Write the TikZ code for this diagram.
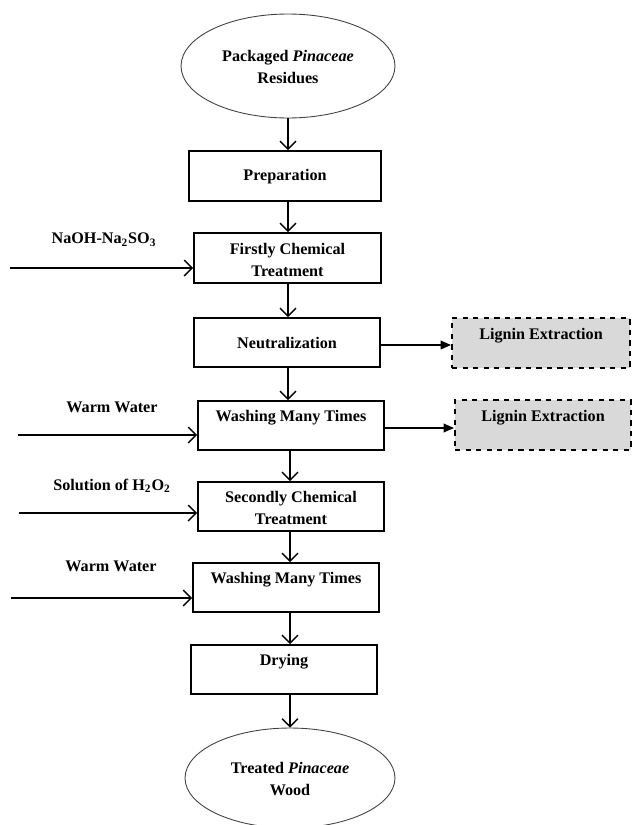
\documentclass[tikz,border=0pt]{standalone}
\usepackage{fontspec}
\setmainfont{Liberation Serif}
\usetikzlibrary{shapes.geometric,arrows.meta}
\definecolor{lgray}{HTML}{D9D9D9}
\begin{document}
\begin{tikzpicture}[x=0.02cm,y=-0.02cm,
  font=\fontsize{9.2}{12.5}\selectfont\bfseries,
  stepbox/.style={draw,line width=1.1pt,minimum height=0.98cm,inner sep=0pt},
  ligbox/.style={draw,dashed,line width=1.1pt,fill=lgray,minimum height=1cm,inner sep=0pt},
  oval/.style={draw=black!75,ellipse,line width=0.5pt,inner sep=0pt},
  txt/.style={align=center,inner sep=0pt,yshift=-0.4pt},
  flow/.style={line width=0.8pt,-{Straight Barb[length=4.5pt,width=9pt]}},
  side/.style={line width=0.8pt,-{Triangle[length=6pt,width=5pt]}}]
\useasboundingbox (0,0) rectangle (632,825);
% ovals
\node[oval,minimum width=4.28cm,minimum height=2.08cm] (start) at (288,66) {};
\node[txt] (starttxt) at (288,66) {Packaged \textit{Pinaceae}\\Residues};
\node[oval,minimum width=4.2cm,minimum height=2.0cm] (end) at (290,778) {};
\node[txt] (endtxt) at (290,778) {Treated \textit{Pinaceae}\\Wood};
% boxes
\node[stepbox,minimum width=3.84cm,minimum height=1cm] (prep) at (285,176) {};
\node[txt] (preptxt) at (285,176) {Preparation};
\node[stepbox,minimum width=3.74cm,minimum height=1cm] (chem1) at (287.5,258) {};
\node[txt] (chem1txt) at (287.5,259.5) {Firstly Chemical\\Treatment};
\node[stepbox,minimum width=3.72cm] (neut) at (287,342.5) {};
\node[txt] (neuttxt) at (287,342) {Neutralization};
\node[stepbox,minimum width=3.72cm] (wash1) at (291,425.5) {};
\node[txt] (wash1txt) at (291,417) {Washing Many Times};
\node[stepbox,minimum width=3.72cm] (chem2) at (291,506.5) {};
\node[txt] (chem2txt) at (291,507.5) {Secondly Chemical\\Treatment};
\node[stepbox,minimum width=3.72cm] (wash2) at (286,587.5) {};
\node[txt] (wash2txt) at (286,579) {Washing Many Times};
\node[stepbox,minimum width=3.72cm] (dry) at (284,669.5) {};
\node[txt] (drytxt) at (284,661) {Drying};
% lignin boxes
\node[ligbox,minimum width=3.56cm] (lig1) at (541,343) {};
\node[txt] (lig1txt) at (541,335) {Lignin Extraction};
\node[ligbox,minimum width=3.52cm] (lig2) at (543,425) {};
\node[txt] (lig2txt) at (543,417) {Lignin Extraction};
% input labels
\node[txt] (l1) at (104,239) {NaOH-Na\textsubscript{2}SO\textsubscript{3}};
\node[txt] (l2) at (112,407) {Warm Water};
\node[txt] (l3) at (112,485) {Solution of H\textsubscript{2}O\textsubscript{2}};
\node[txt] (l4) at (111,566) {Warm Water};
\coordinate (in1) at (10,268);
\coordinate (in2) at (18,435);
\coordinate (in3) at (19,513);
\coordinate (in4) at (11,598);
\coordinate (x1) at (288,0);
\coordinate (x2) at (290,0);
% vertical flow
\draw[flow] (start.south) -- (prep.north -| x1);
\draw[flow] (prep.south -| x1) -- (chem1.north -| x1);
\draw[flow] (chem1.south -| x1) -- (neut.north -| x1);
\draw[flow] (neut.south -| x1) -- (wash1.north -| x1);
\draw[flow] (wash1.south -| x2) -- (chem2.north -| x2);
\draw[flow] (chem2.south -| x2) -- (wash2.north -| x2);
\draw[flow] (wash2.south -| x2) -- (dry.north -| x2);
\draw[flow] (dry.south -| x2) -- (end.north);
% inputs
\draw[flow] (in1) -- (in1 -| chem1.west);
\draw[flow] (in2) -- (in2 -| wash1.west);
\draw[flow] (in3) -- (in3 -| chem2.west);
\draw[flow] (in4) -- (in4 -| wash2.west);
% lignin outputs
\coordinate (o1) at (0,345);
\coordinate (o2) at (0,428);
\draw[side] (o1 -| neut.east) -- (o1 -| lig1.west);
\draw[side] (o2 -| wash1.east) -- (o2 -| lig2.west);
\end{tikzpicture}
\end{document}
